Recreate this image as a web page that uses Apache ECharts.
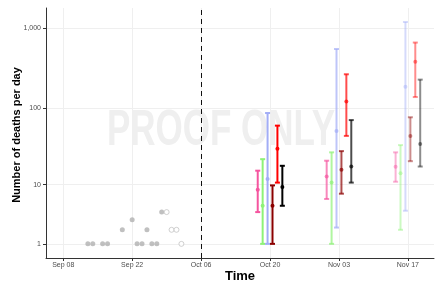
<!DOCTYPE html>
<html>
<head>
<meta charset="utf-8">
<script src="https://cdn.jsdelivr.net/npm/echarts@6/dist/echarts.min.js"></script>
<style>
  html, body { margin: 0; padding: 0; background: #fff; }
  #chart { width: 436px; height: 283px; }
</style>
</head>
<body>
<div id="chart"></div>
<script>
  // observed deaths (filled dots) and later, still-incomplete reports (open dots)
  var obsDates = ['2020-09-13','2020-09-14','2020-09-16','2020-09-17','2020-09-20','2020-09-22',
                  '2020-09-23','2020-09-24','2020-09-25','2020-09-26','2020-09-27','2020-09-28']
  var obsDeaths = [1,1,1,1,2,3,1,1,2,1,1,4]
  var lateDates = ['2020-09-29','2020-09-30','2020-10-01','2020-10-02']
  var lateDeaths = [4,2,2,1]

  var forecastDate = '2020-10-06'
  var targetDates = ['2020-10-20','2020-11-03','2020-11-17']
  var horizonAlpha = [1, 0.7, 0.45]

  // [lower, median, upper] per target date
  var pinkModel = [[4,8.5,15.5],[6.3,13,21],[11,17.5,27]]
  var greenModel = [[1,5,22],[1,10.7,27],[2,14.3,33.5]]
  var blueModel = [[1,12,86],[2.2,51,550],[4.2,184,1200]]
  var darkredModel = [[1,5,9.8],[7.5,16,28],[20.7,44,76]]
  var redModel = [[10.7,30,59.5],[44,120,265],[137,381,663]]
  var blackModel = [[5,9.3,18],[10.7,17.6,70],[17.6,34.5,227]]

  var yTicks = [1,10,100,1000]
  var xTickDates = ['2020-09-08','2020-09-22','2020-10-06','2020-10-20','2020-11-03','2020-11-17']

  var MONTHS = ['Jan','Feb','Mar','Apr','May','Jun','Jul','Aug','Sep','Oct','Nov','Dec']
  var ORIGIN = Date.UTC(2020,9,6)

  var dayNum = function (s) {
    var p = s.split('-')
    return (Date.UTC(+p[0], +p[1]-1, +p[2]) - ORIGIN)/86400000
  }
  // log10(x + 1) scale, as in the original
  var t = function (v) { return Math.log10(v+1) }

  var models = [
    {name:'pink', color:'#f5559f', bands:pinkModel},
    {name:'green', color:'#8ef277', bands:greenModel},
    {name:'blue', color:'#a2adf6', bands:blueModel},
    {name:'darkred', color:'#8b0000', bands:darkredModel},
    {name:'red', color:'#ff0000', bands:redModel},
    {name:'black', color:'#000000', bands:blackModel}
  ]

  var renderBar = function (params, api) {
    var x = api.value(0)
    var lo = api.coord([x, api.value(1)])
    var mid = api.coord([x, api.value(2)])
    var hi = api.coord([x, api.value(3)])
    var a = api.value(4)
    var c = api.visual('color')
    var st = {stroke:c, lineWidth:2, opacity:a}
    return {
      type:'group',
      children:[
        {type:'line', shape:{x1:lo[0], y1:lo[1], x2:hi[0], y2:hi[1]}, style:st},
        {type:'line', shape:{x1:lo[0]-2.5, y1:lo[1], x2:lo[0]+2.5, y2:lo[1]}, style:st},
        {type:'line', shape:{x1:hi[0]-2.5, y1:hi[1], x2:hi[0]+2.5, y2:hi[1]}, style:st},
        {type:'circle', shape:{cx:mid[0], cy:mid[1], r:2}, style:{fill:c, opacity:a}}
      ]
    }
  }

  var series = []
  series.push({
    type:'scatter',
    symbolSize:5,
    itemStyle:{color:'#b0b0b0'},
    data: obsDates.map(function (d,i) { return [dayNum(d), t(obsDeaths[i])] }),
    markLine:{
      silent:true,
      symbol:'none',
      label:{show:false},
      lineStyle:{color:'#111', type:[5,4], width:1},
      data:[{xAxis:dayNum(forecastDate)}]
    }
  })
  series.push({
    type:'scatter',
    symbol:'circle',
    symbolSize:5,
    itemStyle:{color:'#fff', borderColor:'#c4c4c4', borderWidth:1},
    data: lateDates.map(function (d,i) { return [dayNum(d), t(lateDeaths[i])] })
  })

  models.forEach(function (m, k) {
    var off = k - 2.5
    series.push({
      type:'custom',
      name:m.name,
      renderItem:renderBar,
      itemStyle:{color:m.color},
      encode:{x:0, y:[1,2,3]},
      clip:true,
      z:3,
      data: targetDates.map(function (d,i) {
        var b = m.bands[i]
        return [dayNum(d)+off, t(b[0]), t(b[1]), t(b[2]), horizonAlpha[i]]
      })
    })
  })

  var chart = echarts.init(document.getElementById('chart'))
  var axisFont = {fontFamily:'Liberation Sans', fontSize:7, color:'#4d4d4d'}
  var titleFont = 'bold 13px "Liberation Sans"'
  var option = {
    animation:false,
    backgroundColor:'#fff',
    textStyle:{fontFamily:'Liberation Sans'},
    graphic:[{
      type:'text',
      x:221, y:131,
      scaleX:0.7,
      z:-1,
      silent:true,
      style:{text:'PROOF ONLY', font:'bold 50px "Liberation Sans"', fill:'#efefef',
             align:'center', verticalAlign:'middle'}
    },{
      // axis titles
      type:'text', x:240, y:276, silent:true,
      style:{text:'Time', font:titleFont, fill:'#000', align:'center', verticalAlign:'middle'}
    },{
      type:'text', x:17, y:135, rotation:Math.PI/2, silent:true,
      style:{text:'Number of deaths per day', font:'bold 11px "Liberation Sans"', fill:'#000',
             align:'center', verticalAlign:'middle'}
    }],
    grid:{left:46, right:2, top:8, bottom:25, outerBoundsMode:'none', containLabel:false},
    xAxis:{
      type:'value',
      min:-31.5,
      max:47.3,
      axisLine:{show:true, onZero:false, lineStyle:{color:'#333', width:1}},
      axisTick:{show:true, length:3, lineStyle:{color:'#333'}, customValues:xTickDates.map(dayNum)},
      axisLabel:Object.assign({margin:4, customValues:xTickDates.map(dayNum),
        formatter:function (v) {
          var d = new Date(ORIGIN + v*86400000)
          var dd = d.getUTCDate()
          return MONTHS[d.getUTCMonth()] + ' ' + (dd<10?'0'+dd:dd)
        }}, axisFont),
      splitLine:{show:true, lineStyle:{color:'#efefef', width:1}}
    },
    yAxis:{
      type:'value',
      min:0.124,
      max:3.255,
      axisLine:{show:true, onZero:false, lineStyle:{color:'#333', width:1}},
      axisTick:{show:true, length:3, lineStyle:{color:'#333'}, customValues:yTicks.map(t)},
      axisLabel:Object.assign({margin:5, customValues:yTicks.map(t),
        formatter:function (v) {
          var n = Math.round(Math.pow(10, v) - 1)
          return n.toString().replace(/\B(?=(\d{3})+(?!\d))/g, ',')
        }}, axisFont),
      splitLine:{show:true, lineStyle:{color:'#efefef', width:1}}
    },
    series:series
  }
  chart.setOption(option)
</script>
</body>
</html>
